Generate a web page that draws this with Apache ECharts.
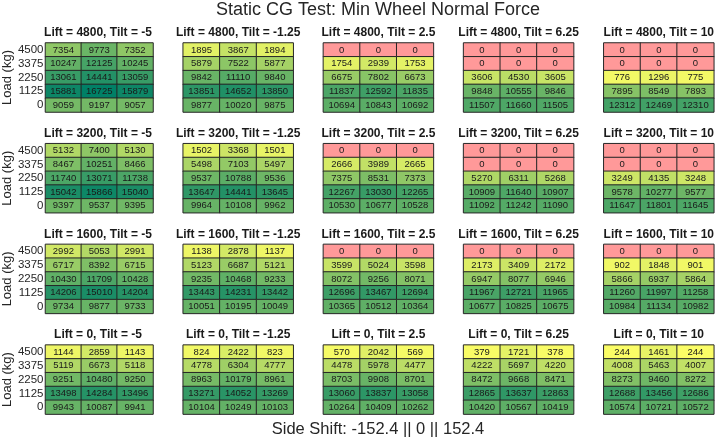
<!DOCTYPE html>
<html>
<head>
<meta charset="utf-8">
<script src="https://cdn.jsdelivr.net/npm/echarts@6/dist/echarts.min.js"></script>
<style>html,body{margin:0;padding:0;background:#fff}#c{width:717px;height:442px}</style>
</head>
<body>
<div id="c"></div>
<script>
// Load levels (y categories, bottom to top) and side shift columns
const loads = ['0', '1125', '2250', '3375', '4500'];
const sideShift = ['-152.4', '0', '152.4'];
const lifts = [4800, 3200, 1600, 0];
const tilts = ['-5', '-1.25', '2.5', '6.25', '10'];

// Each panel: rows top (4500) to bottom (0), columns side shift -152.4, 0, 152.4
const lift4800 = [
  [[7354,9773,7352],[10247,12125,10245],[13061,14441,13059],[15881,16725,15879],[9059,9197,9057]],
  [[1895,3867,1894],[5879,7522,5877],[9842,11110,9840],[13851,14652,13850],[9877,10020,9875]],
  [[0,0,0],[1754,2939,1753],[6675,7802,6673],[11837,12592,11835],[10694,10843,10692]],
  [[0,0,0],[0,0,0],[3606,4530,3605],[9848,10555,9846],[11507,11660,11505]],
  [[0,0,0],[0,0,0],[776,1296,775],[7895,8549,7893],[12312,12469,12310]]
];
const lift3200 = [
  [[5132,7400,5130],[8467,10251,8466],[11740,13071,11738],[15042,15866,15040],[9397,9537,9395]],
  [[1502,3368,1501],[5498,7103,5497],[9537,10788,9536],[13647,14441,13645],[9964,10108,9962]],
  [[0,0,0],[2666,3989,2665],[7375,8531,7373],[12267,13030,12265],[10530,10677,10528]],
  [[0,0,0],[0,0,0],[5270,6311,5268],[10909,11640,10907],[11092,11242,11090]],
  [[0,0,0],[0,0,0],[3249,4135,3248],[9578,10277,9577],[11647,11801,11645]]
];
const lift1600 = [
  [[2992,5053,2991],[6717,8392,6715],[10430,11709,10428],[14206,15010,14204],[9734,9877,9733]],
  [[1138,2878,1137],[5123,6687,5121],[9235,10468,9233],[13443,14231,13442],[10051,10195,10049]],
  [[0,0,0],[3599,5024,3598],[8072,9256,8071],[12696,13467,12694],[10365,10512,10364]],
  [[0,0,0],[2173,3409,2172],[6947,8077,6946],[11967,12721,11965],[10677,10825,10675]],
  [[0,0,0],[902,1848,901],[5866,6937,5864],[11260,11997,11258],[10984,11134,10982]]
];
const lift0 = [
  [[1144,2859,1143],[5119,6673,5118],[9251,10480,9250],[13498,14284,13496],[9943,10087,9941]],
  [[824,2422,823],[4778,6304,4777],[8963,10179,8961],[13271,14052,13269],[10104,10249,10103]],
  [[570,2042,569],[4478,5978,4477],[8703,9908,8701],[13060,13837,13058],[10264,10409,10262]],
  [[379,1721,378],[4222,5697,4220],[8472,9668,8471],[12865,13637,12863],[10420,10567,10419]],
  [[244,1461,244],[4008,5463,4007],[8273,9460,8272],[12688,13456,12686],[10574,10721,10572]]
];
const panelsByLift = [lift4800, lift3200, lift1600, lift0];

const FONT = 'Liberation Sans, Arial, sans-serif';
const gridLeft0 = 43, gridStepX = 140.2, gridW = 110;
const gridTop0 = 43, gridStepY = 100.7, gridH = 69;

const grids = [], xAxes = [], yAxes = [], series = [], titles = [];
titles.push({text: 'Static CG Test: Min Wheel Normal Force', left: 378, top: 1, textAlign: 'center', padding: 0,
  textStyle: {fontFamily: FONT, fontSize: 18, fontWeight: 'normal', color: '#262626'}});
titles.push({text: 'Side Shift: ' + sideShift.join(' || '), left: 378, top: 421, textAlign: 'center', padding: 0,
  textStyle: {fontFamily: FONT, fontSize: 16.5, fontWeight: 'normal', color: '#262626'}});

let k = 0;
for (let i = 0; i < lifts.length; i++) {
  for (let j = 0; j < tilts.length; j++) {
    const left = gridLeft0 + gridStepX * j;
    const top = gridTop0 + gridStepY * i;
    grids.push({left: left, top: top, width: gridW, height: gridH, containLabel: false});
    xAxes.push({type: 'category', gridIndex: k, data: sideShift, show: false});
    yAxes.push({type: 'category', gridIndex: k, data: loads,
      axisLine: {show: false}, axisTick: {show: false}, splitLine: {show: false},
      axisLabel: {show: j === 0, interval: 0, fontFamily: FONT, fontSize: 11.5, color: '#262626', margin: 2},
      name: j === 0 ? 'Load (kg)' : '', nameLocation: 'middle', nameRotate: 90, nameGap: 29,
      nameTextStyle: {fontFamily: FONT, fontSize: 13, color: '#262626'}});
    titles.push({text: 'Lift = ' + lifts[i] + ', Tilt = ' + tilts[j], left: left + gridW / 2, top: top - 16,
      textAlign: 'center', padding: 0,
      textStyle: {fontFamily: FONT, fontSize: 12, fontWeight: 'bold', color: '#1a1a1a'}});
    const panel = panelsByLift[i][j];
    const data = [];
    for (let r = 0; r < 5; r++) {
      for (let c = 0; c < 3; c++) {
        data.push([c, 4 - r, panel[r][c]]);
      }
    }
    series.push({type: 'heatmap', xAxisIndex: k, yAxisIndex: k, data: data,
      itemStyle: {borderColor: '#262626', borderWidth: 1},
      label: {show: true, fontFamily: FONT, fontSize: 9.5, color: '#1a1a1a', formatter: p => String(p.value[2])},
      emphasis: {disabled: true}});
    k++;
  }
}

const chart = echarts.init(document.getElementById('c'), null, {renderer: 'canvas'});
chart.setOption({
  animation: false,
  backgroundColor: '#ffffff',
  title: titles,
  grid: grids,
  xAxis: xAxes,
  yAxis: yAxes,
  visualMap: {type: 'continuous', show: false, min: 0, max: 16725, range: [0.5, 16725], dimension: 2,
    seriesIndex: series.map((s, idx) => idx),
    inRange: {color: ['#ffff66', '#008066']},
    outOfRange: {color: '#ff9999'}},
  series: series
});
</script>
</body>
</html>
